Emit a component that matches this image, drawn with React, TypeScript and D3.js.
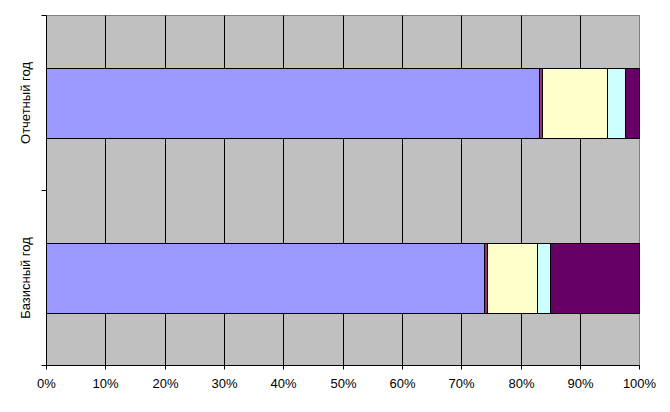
import React, { useEffect, useRef } from "react";
import * as d3 from "d3";

const categories = ["Отчетный год", "Базисный год"];
const seriesNames = ["Ряд1", "Ряд2", "Ряд3", "Ряд4", "Ряд5"];
const seriesColors = ["#9999FF", "#993366", "#FFFFCC", "#CCFFFF", "#660066"];
// percentage shares per category (same order as categories)
const series1 = [83.1, 73.8];
const series2 = [0.5, 0.5];
const series3 = [11.0, 8.4];
const series4 = [3.0, 2.3];
const series5 = [2.4, 15.0];
const xTicks = [0, 0.1, 0.2, 0.3, 0.4, 0.5, 0.6, 0.7, 0.8, 0.9, 1.0];

export default function App() {
  const ref = useRef<SVGSVGElement>(null);
  useEffect(() => {
    document.body.style.margin = "0";
    const svg = d3.select(ref.current);
    svg.selectAll("*").remove();
    const W = 670, H = 412;
    const left = 46, right = 639.3, top = 15.5, bottom = 365.5;
    const x = d3.scaleLinear().domain([0, 1]).range([left, right]);
    const px = (v: number) => Math.floor(x(v) + 0.4) + 0.5;
    const y = d3.scaleBand().domain(categories).range([top, bottom]).paddingInner(0.6).paddingOuter(0.3);

    svg.append("rect").attr("x", 0).attr("y", 0).attr("width", W).attr("height", H).attr("fill", "#fff");
    svg.append("rect").attr("x", px(0)).attr("y", top).attr("width", px(1) - px(0)).attr("height", bottom - top)
      .attr("fill", "#C0C0C0").attr("stroke", "#808080").attr("stroke-width", 1);

    // grid
    svg.append("g").selectAll("line").data(xTicks.slice(1, -1)).join("line")
      .attr("x1", d => px(d)).attr("x2", d => px(d))
      .attr("y1", top).attr("y2", bottom).attr("stroke", "#000").attr("stroke-width", 1);

    const all = [series1, series2, series3, series4, series5];
    const rows = categories.map((c, i) => {
      const o: any = { cat: c };
      seriesNames.forEach((s, j) => (o[s] = all[j][i]));
      return o;
    });
    const stack = d3.stack().keys(seriesNames).offset(d3.stackOffsetExpand);
    const stacked = stack(rows as any);
    stacked.forEach((layer, j) => {
      svg.append("g").selectAll("rect").data(layer).join("rect")
        .attr("x", d => px(d[0]))
        .attr("width", d => px(d[1]) - px(d[0]))
        .attr("y", d => Math.round(y((d.data as any).cat)!) + 0.5)
        .attr("height", Math.round(y.bandwidth()))
        .attr("fill", seriesColors[j]).attr("stroke", "#000").attr("stroke-width", 1);
    });

    // axes
    svg.append("line").attr("x1", px(0)).attr("x2", px(0)).attr("y1", top).attr("y2", bottom).attr("stroke", "#000");
    svg.append("line").attr("x1", px(0)).attr("x2", px(1)).attr("y1", bottom).attr("y2", bottom).attr("stroke", "#000");
    [top, top + (bottom - top) / 2, bottom].forEach(v => {
      svg.append("line").attr("x1", px(0) - 5).attr("x2", px(0)).attr("y1", Math.round(v - 0.5) + 0.5).attr("y2", Math.round(v - 0.5) + 0.5).attr("stroke", "#000");
    });
    const gx = svg.append("g");
    xTicks.forEach(t => {
      gx.append("line").attr("x1", px(t)).attr("x2", px(t)).attr("y1", bottom).attr("y2", bottom + 4).attr("stroke", "#000");
      gx.append("text").attr("x", px(t)).attr("y", 388).attr("text-anchor", "middle")
        .attr("font-family", "Liberation Sans, Arial, sans-serif").attr("font-size", 13).attr("fill", "#000")
        .text(d3.format(".0%")(t));
    });
    categories.forEach(c => {
      const cy = y(c)! + y.bandwidth() / 2;
      svg.append("text").attr("transform", `translate(30,${cy}) rotate(-90)`).attr("text-anchor", "middle")
        .attr("font-family", "Liberation Sans, Arial, sans-serif").attr("font-size", 13).attr("fill", "#000")
        .text(c);
    });
  }, []);
  return <svg ref={ref} width={670} height={412} style={{ display: "block" }} />;
}
